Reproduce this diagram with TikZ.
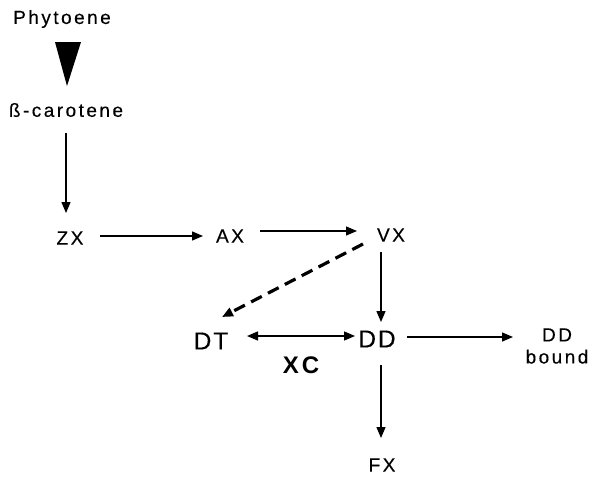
\documentclass[tikz,border=0pt]{standalone}
\usepackage{fontspec}
\setmainfont{Liberation Sans}
\newfontfamily\spaced[LetterSpace=13,FakeBold=0.3]{Liberation Sans}
\newfontfamily\spacedbig[LetterSpace=8,FakeBold=0.3]{Liberation Sans}
\newfontfamily\spacedb[LetterSpace=13]{Liberation Sans}
\usetikzlibrary{arrows.meta}
\begin{document}
\begin{tikzpicture}[x=1pt,y=-1pt,
  lbl/.style={font=\spaced\fontsize{19}{21}\selectfont, inner sep=0pt},
  big/.style={font=\spacedbig\fontsize{24.5}{26}\selectfont, inner sep=0pt},
  arr/.style={line width=1.4pt, -{Triangle[length=11pt,width=9pt]}},
  darr/.style={line width=1.4pt, {Triangle[length=11pt,width=9pt]}-{Triangle[length=11pt,width=9pt]}}]
\useasboundingbox (0,0) rectangle (597,477);
\node[lbl] (phy) at (62,19) {Phytoene};
\node[lbl] (bc) at (66,110) {ß-carotene};
\node[lbl] (zx) at (70,238) {ZX};
\node[lbl] (ax) at (230,236) {AX};
\node[lbl] (vx) at (391,235) {VX};
\node[big] (dt) at (211,341) {DT};
\node[big] (dd) at (377,339) {DD};
\node[font=\spacedb\bfseries\fontsize{24}{26}\selectfont, inner sep=0pt] (xc) at (301,365) {XC};
\node[lbl, align=center, font=\spaced\fontsize{19}{22}\selectfont] (ddb) at (557,346) {DD\\bound};
\node[lbl] (fx) at (382,465) {FX};
% triangle
\coordinate (t1) at (55,42);
\coordinate (t2) at (81,42);
\coordinate (t3) at (67,86);
\fill (t1) -- (t2) -- (t3) -- cycle;
% arrows
\draw[arr] (66,133) -- (66,213);
\draw[arr] (100,236) -- (203,236);
\draw[arr] (260,231) -- (357,231);
\draw[arr, dash pattern=on 12pt off 7pt, line width=3.2pt] (363,244) -- (222,317);
\draw[arr] (381,252) -- (381,322);
\draw[darr] (247,336) -- (355,336);
\draw[arr] (407,337) -- (513,337);
\draw[arr] (381,365) -- (381,438);
\end{tikzpicture}
\end{document}
